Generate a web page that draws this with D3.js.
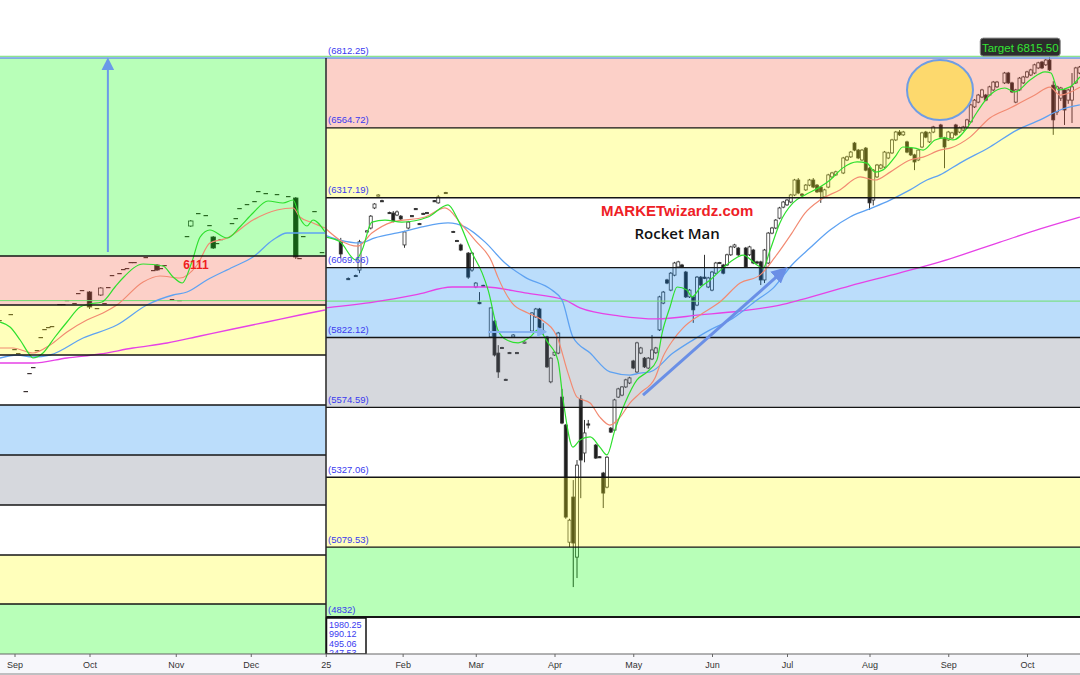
<!DOCTYPE html>
<html><head><meta charset="utf-8">
<script src="https://cdn.jsdelivr.net/npm/d3@7"></script>
<style>
body{margin:0;background:#fff;}
svg{display:block;font-family:"Liberation Sans",Arial,sans-serif;}
</style>
</head><body>
<svg id="c" width="1080" height="675"></svg>
<script>
// ---------- DATA ----------
// x axis: trading-day index (0 = first trading day of Sep 2024)
const monthTickIdx = [0,20,43,63,83,103.5,123,144,165,186,206,228,249,270];
const monthLabels  = ["Sep","Oct","Nov","Dec","25","Feb","Mar","Apr","May","Jun","Jul","Aug","Sep","Oct"];

// right panel (2025) fib levels
const rightLevels = [6812.25,6564.72,6317.19,6069.66,5822.12,5574.59,5327.06,5079.53,4832];
const rightLevelLabels = ["6812.25","6564.72","6317.19","6069.66","5822.12","5574.59","5327.06","5079.53","4832"];
const rightBandColors = ["pink","yellow","white","blue","gray","white","yellow","green"];
// left panel (2024) levels
const leftLevels = [6557.5,6062.5,5940,5815,5690,5565,5440,5315,5192.5,5065];
const leftBandColors = ["green","pink","yellow","white","blue","gray","white","yellow","green"];
const scaleBoxLabels = ["1980.25","990.12","495.06","247.53"];
const targetValue = 6815.5;
const greenLevel = 5951;

// candles: [dayIndex, open, high, low, close]
const leftCandles = [
[-4,5902.5,5902.5,5902.5,5902.5],[-1,5917.5,5917.5,5917.5,5917.5],[0,5830,5830,5830,5830],[1,5820,5820,5820,5820],
[3,5725,5725,5725,5725],[4,5770,5770,5770,5770],[5,5785,5785,5785,5785],[6,5827.5,5827.5,5827.5,5827.5],
[7,5860,5860,5860,5860],[8,5880,5880,5880,5880],[9,5885,5885,5885,5885],[10,5887.5,5887.5,5887.5,5887.5],
[12,5942.5,5942.5,5942.5,5942.5],[13,5942.5,5942.5,5942.5,5942.5],[14,5952.5,5952.5,5952.5,5952.5],
[16,5945,5945,5945,5945],[17,5970,5970,5970,5970],[18,5977.5,5977.5,5977.5,5977.5],
[20,5972.5,5975,5930,5935],[22,5932.5,5932.5,5932.5,5932.5],[23,5965,5985,5962.5,5982.5],
[24,5945,5945,5945,5945],[25,5985,5985,5985,5985],[26,6015,6015,6015,6015],[28,6020,6020,6020,6020],
[29,6030,6030,6030,6030],[30,6032.5,6032.5,6032.5,6032.5],[31,6047.5,6047.5,6047.5,6047.5],[32,6047.5,6047.5,6047.5,6047.5],
[35,6060,6060,6060,6060],[37,6027.5,6027.5,6027.5,6027.5],[38,6040,6042.5,6025,6027.5],[39,6032.5,6032.5,6032.5,6032.5],
[40,6040,6040,6040,6040],[42,5955,5955,5955,5955],[44,5952.5,5952.5,5952.5,5952.5],[46,6112.5,6112.5,6112.5,6112.5],
[47,6137.5,6152.5,6135,6150],[49,6170,6170,6170,6170],[51,6165,6165,6165,6165],[52,6140,6140,6140,6140],
[53,6110,6112.5,6080,6082.5],[54,6095,6095,6095,6095],[55,6105,6105,6105,6105],[58,6145,6145,6145,6145],
[59,6157.5,6157.5,6157.5,6157.5],[60,6182.5,6182.5,6182.5,6182.5],[62,6192.5,6192.5,6192.5,6192.5],
[64,6200,6200,6200,6200],[65,6225,6225,6225,6225],[67,6220,6220,6220,6220],[70,6217.5,6217.5,6217.5,6217.5],
[73,6212.5,6212.5,6212.5,6212.5],[75,6207.5,6210,6055,6060],[76,6057.5,6057.5,6057.5,6057.5],
[77,6112.5,6112.5,6112.5,6112.5],[80,6175,6175,6175,6175],[82,6072.5,6072.5,6072.5,6072.5]
];

const rightCandles = [
[87,6160,6175,6104,6118],[89,6031,6035,6026,6029],[91,6042,6045,6037,6040],[92,6061,6168,6050,6161],
[94,6198,6203,6196,6200],[95,6210,6256,6205,6252],[96,6281,6298,6277,6295],[97,6325,6330,6322,6327],
[98,6307,6310,6302,6305],[100,6265,6268,6260,6263],[101,6263,6270,6230,6235],[102,6256,6272,6252,6267],
[103,6252,6256,6238,6242],[104,6150,6200,6140,6196],[105,6210,6235,6205,6231],[106,6254,6256,6250,6252],
[107,6279,6281,6275,6277],[108,6226,6228,6222,6224],[109,6262,6264,6258,6260],[110,6265,6267,6261,6263],
[112,6307,6309,6303,6305],[113,6299,6327,6296,6320],[115,6336,6338,6332,6334],[117,6198,6200,6194,6196],
[118,6166,6168,6162,6164],[119,6150,6155,6128,6132],[121,6121,6125,6030,6036],[122,6061,6125,6055,6121],
[123,6001,6018,5997,6015],[124,5946,5983,5940,5944],[125,6007,6009,6003,6005],[127,5824,5927,5820,5927],
[128,5880,5884,5755,5760],[129,5767,5795,5679,5700],[130,5787,5789,5783,5785],[131,5674,5676,5670,5672],
[132,5769,5771,5765,5767],[133,5824,5834,5821,5831],[134,5769,5771,5765,5767],[136,5802,5808,5800,5806],
[138,5845,5912,5842,5909],[139,5895,5927,5892,5923],[140,5923,5927,5852,5856],[141,5845,5873,5831,5840],
[142,5824,5828,5714,5718],[143,5665,5752,5660,5749],[144,5760,5773,5757,5770],[145,5767,5842,5763,5838],
[146,5611,5640,5515,5519],[147,5512,5516,5180,5186],[148,5097,5180,5080,5175],[149,5257,5317,4938,5094],
[150,5044,5388,4970,5370],[151,5604,5618,5253,5388],[152,5413,5530,5380,5484],[153,5516,5530,5500,5512],
[155,5441,5445,5392,5395],[156,5400,5402,5396,5398],[157,5342,5346,5218,5271],[158,5292,5402,5288,5398],
[159,5501,5505,5484,5487],[160,5494,5605,5490,5601],[161,5611,5644,5608,5640],[162,5618,5650,5614,5647],
[163,5647,5676,5643,5672],[164,5661,5683,5657,5679],[165,5739,5743,5710,5714],[166,5700,5807,5696,5803],
[167,5767,5789,5763,5785],[168,5749,5753,5714,5718],[169,5714,5753,5710,5749],[170,5746,5831,5742,5778],
[171,5768,5789,5764,5785],[172,5849,5970,5845,5966],[173,5944,5987,5940,5983],[174,6026,6030,6011,6015],
[175,5990,6054,5986,6050],[176,6043,6090,6039,6086],[177,6072,6094,6068,6090],[178,6079,6083,6068,6072],
[179,6054,6058,5962,5966],[180,5966,5994,5962,5990],[181,5966,5970,5874,5920],[182,5937,6040,5933,6036],
[183,6036,6040,6004,6008],[184,6036,6115,6029,6033],[185,6001,6037,5997,6033],[186,5990,6058,5986,6054],
[187,6050,6090,6046,6086],[188,6088,6090,6084,6086],[189,6079,6083,6046,6050],[190,6079,6119,6075,6115],
[191,6115,6147,6111,6143],[192,6143,6154,6139,6150],[193,6139,6143,6111,6115],[195,6139,6143,6068,6072],
[196,6115,6147,6111,6143],[197,6132,6136,6082,6086],[198,6090,6094,6082,6086],[199,6090,6094,6008,6026],
[200,6026,6136,6015,6132],[201,6086,6196,6082,6192],[202,6192,6214,6188,6210],[203,6210,6242,6206,6238],
[204,6245,6285,6241,6281],[205,6284,6306,6280,6302],[206,6292,6313,6288,6309],[207,6302,6331,6298,6327],
[208,6327,6384,6323,6380],[209,6380,6387,6330,6334],[210,6330,6334,6323,6327],[211,6345,6366,6341,6362],
[212,6362,6384,6358,6380],[213,6380,6387,6351,6355],[214,6362,6366,6334,6338],[215,6355,6359,6299,6338],
[216,6320,6349,6316,6345],[217,6355,6402,6351,6398],[218,6391,6409,6387,6405],[219,6398,6413,6394,6409],
[221,6405,6462,6401,6458],[222,6451,6466,6447,6462],[223,6462,6483,6458,6479],[224,6511,6515,6482,6486],
[225,6486,6490,6454,6458],[226,6451,6490,6447,6486],[227,6493,6497,6411,6415],[228,6422,6426,6274,6299],
[229,6309,6419,6290,6415],[230,6391,6437,6387,6433],[231,6422,6437,6418,6433],[232,6426,6483,6422,6479],
[233,6458,6480,6454,6476],[234,6476,6526,6472,6522],[235,6522,6554,6518,6550],[236,6550,6557,6536,6540],
[237,6540,6554,6536,6550],[238,6515,6519,6475,6479],[239,6493,6497,6465,6469],[240,6469,6473,6415,6444],
[241,6451,6490,6447,6486],[242,6497,6551,6493,6547],[243,6550,6554,6528,6532],[244,6515,6551,6511,6547],
[245,6550,6572,6546,6568],[247,6575,6579,6528,6532],[248,6529,6533,6422,6497],[249,6522,6554,6518,6550],
[250,6529,6551,6525,6547],[251,6575,6579,6536,6540],[252,6550,6569,6546,6565],[253,6557,6572,6553,6568],
[254,6568,6597,6564,6593],[255,6586,6650,6582,6646],[256,6639,6667,6635,6663],[257,6656,6685,6652,6681],
[258,6674,6703,6670,6699],[259,6681,6685,6659,6663],[260,6681,6714,6677,6710],[261,6699,6731,6695,6727],
[262,6710,6731,6706,6727],[264,6724,6763,6720,6759],[265,6759,6763,6720,6724],[266,6724,6728,6688,6692],
[267,6656,6703,6652,6699],[268,6699,6745,6695,6741],[269,6724,6749,6720,6745],[270,6745,6767,6741,6763],
[271,6752,6774,6748,6770],[272,6759,6792,6755,6788],[273,6777,6799,6773,6795],[274,6798,6802,6773,6777],
[275,6788,6809,6784,6805],[276,6805,6815,6766,6770],[277,6716,6730,6540,6593],[278,6621,6714,6610,6710],
[279,6670,6710,6660,6706],[280,6699,6703,6575,6628],[281,6663,6703,6650,6699],[282,6663,6759,6582,6710],
[283,6724,6781,6720,6777],[284,6759,6784,6755,6780]
];

// moving averages: [dayIndex, value]
const leftFastMA = [[-3.9,5897.5],[-1.2,5885],[1.5,5852.5],[4.1,5815],[4.9,5807.5],[7.6,5820],[10.8,5860],[14,5897.5],[17.5,5935],[20.1,5942.5],[23.3,5947.5],[26.8,5985],[28.9,6007.5],[34.3,6042.5],[39.6,6037.5],[42.3,6010],[44.7,5995],[47.3,6047.5],[49.5,6110],[52.1,6127.5],[56.7,6107.5],[60.1,6135],[63.6,6170],[67.6,6200],[71.6,6195],[74.3,6202.5],[76.1,6157.5],[78,6137.5],[79.6,6152.5],[82.8,6122.5]];
const leftMidMA = [[-3.9,5832.5],[-0.4,5832.5],[4.9,5820],[9.5,5840],[14,5872.5],[19.3,5902.5],[23.6,5920],[27.3,5940],[34.3,5997.5],[38.8,6012.5],[44.1,6007.5],[48.7,6040],[52.1,6095],[56.7,6107.5],[63.6,6152.5],[70,6177.5],[74.3,6182.5],[76.1,6160],[79.6,6145],[82.8,6132.5]];
const leftSlowMA = [[-3.9,5807.5],[0.7,5815],[4.9,5810],[9.5,5815],[18.3,5857.5],[27.3,5890],[35.3,5940],[42.3,5965],[46,5972.5],[51.3,6002.5],[58.3,6035],[63.6,6060],[68.9,6102.5],[72.7,6120],[76.1,6120],[82.8,6120]];
const leftLongMA = [[-3.9,5795],[4.9,5795],[14,5807.5],[22.8,5817.5],[31.6,5832.5],[40.7,5845],[49.5,5862.5],[58.3,5880],[67.3,5897.5],[76.1,5915],[82.8,5927.5]];

const rightFastMA = [[83,6178],[86.8,6161],[91,6097],[92.7,6132],[95.3,6231],[98.8,6238],[103.3,6231],[110.3,6249],[115.6,6292],[118.3,6238],[122,6122],[124.7,6051],[126.3,5990],[128.9,5849],[131.3,5813],[134.3,5803],[137.5,5824],[139.6,5849],[142.3,5803],[144.9,5742],[146.3,5601],[148.9,5434],[150.8,5459],[153.5,5470],[156.1,5434],[158,5406],[160.1,5494],[162.8,5590],[166,5672],[168.7,5700],[171.3,5742],[172.7,5838],[174.8,5930],[176.7,6001],[179.3,5990],[180.7,5966],[182.8,5998],[185.5,6026],[188.9,6068],[191.6,6097],[194.3,6114],[198,6079],[199.6,6068],[201.5,6132],[204.1,6228],[207.6,6299],[210.8,6327],[214.8,6355],[217.5,6380],[220.9,6423],[224.7,6444],[227.3,6440],[229.5,6408],[231.6,6416],[234.8,6462],[236.9,6497],[240.1,6493],[242.3,6486],[245.5,6522],[248.1,6529],[250.3,6522],[254,6564],[256.7,6621],[260.1,6681],[264.1,6706],[266.8,6692],[270.8,6734],[274.8,6763],[276.4,6759],[278.3,6699],[281.5,6710],[284.1,6745]];
const rightMidMA = [[82.8,6210],[86.8,6167],[91.6,6146],[95.3,6192],[100.7,6231],[109.5,6249],[114.8,6281],[119.3,6221],[122.8,6167],[127.3,6090],[128.9,6036],[132.7,5944],[136.9,5909],[140.7,5884],[144.7,5824],[147.6,5696],[150,5611],[153.5,5590],[156.1,5540],[158.8,5512],[161.5,5540],[164.1,5590],[166.8,5625],[170.8,5679],[172.9,5753],[175.6,5813],[178.3,5856],[182.8,5902],[188.1,5948],[193.5,6015],[198.8,6043],[202.8,6107],[207.3,6192],[210.8,6263],[214.8,6309],[220.1,6345],[225.5,6391],[229.5,6380],[233.5,6408],[238.8,6451],[242.3,6461],[246.8,6486],[249.5,6493],[254.8,6532],[260.1,6600],[265.5,6635],[272.1,6681],[276.1,6709],[278.8,6681],[284.1,6709]];
const rightSlowMA = [[82.8,6185],[86.8,6167],[92.1,6157],[96.1,6175],[103.3,6196],[108.7,6214],[115.6,6228],[120.1,6214],[125.5,6160],[130.8,6086],[136.1,6036],[143.3,5990],[146,5955],[148.9,5824],[153.5,5767],[158.8,5700],[164.1,5689],[166.8,5696],[169.5,5700],[175.6,5767],[180.9,5813],[185.5,5849],[190.8,5884],[198,5955],[202.3,5997],[207.3,6079],[212.1,6139],[217.5,6203],[222.8,6249],[227.3,6274],[233.5,6309],[238.8,6345],[243.3,6380],[246.8,6398],[252.1,6440],[260.1,6497],[267.3,6557],[273.5,6593],[278.8,6628],[284.1,6646]];
const rightLongMA = [[83.1,5927],[96.1,5948],[106.8,5973],[116.7,6001],[125.5,6001],[136.1,5980],[146.8,5955],[150.8,5927],[161.5,5898],[171.3,5888],[182.8,5902],[193.5,5916],[204.1,5937],[209.5,5955],[222.8,6005],[236.1,6051],[246.8,6090],[262.8,6160],[273.5,6207],[284.1,6249]];

// annotations (in data units)
const leftArrow = [[24.9,6072.5],[24.9,6552.5]];
const rocketArrow = [[167.6,5618],[205.5,6064]];
const flatArrow = [[126.3,5842],[141.5,5842]];
const circleCenter = [246.8,6699];
const label6111 = [48.4,6040];
const targetLabelIdx = 268.2;

// ---------- DRAW ----------
const svg = d3.select("#c");
const x = d3.scaleLinear().domain([0,284]).range([14.5,1079.5]);
const yR = d3.scaleLinear().domain([4832,6812.25]).range([617,58]);
const yL = d3.scaleLinear().domain([5065,6557.5]).range([655,58]);
const split = 326;
const overlay = {pink:"#f4573b",yellow:"#ffff0c",blue:"#0c86f1",gray:"#6d7486",green:"#00ff00"};
const bandOpacity = 0.28;

svg.append("rect").attr("width",1080).attr("height",675).attr("fill","#fff");
const defs = svg.append("defs");
defs.append("clipPath").attr("id","clipL").append("rect").attr("x",0).attr("y",0).attr("width",split-0.5).attr("height",654);
defs.append("clipPath").attr("id","clipR").append("rect").attr("x",split+0.5).attr("y",0).attr("width",1080-split).attr("height",617);
defs.append("clipPath").attr("id","clipBox").append("rect").attr("x",split).attr("y",618).attr("width",40).attr("height",35);

function arrowMarker(id,color,size){
  defs.append("marker").attr("id",id).attr("viewBox","0 0 10 10").attr("refX",8).attr("refY",5)
    .attr("markerWidth",size).attr("markerHeight",size).attr("orient","auto-start-reverse")
    .attr("markerUnits","userSpaceOnUse")
    .append("path").attr("d","M0,0 L10,5 L0,10 z").attr("fill",color);
}
arrowMarker("arrBlue","#6b9ae8",13);
arrowMarker("arrRocket","#6a8fe6",16);
arrowMarker("arrFlat","#86b2f0",10);

function drawCandles(g, data, y, w){
  const gg = g.selectAll("g.c").data(data).join("g");
  gg.append("line").attr("x1",d=>x(d[0])).attr("x2",d=>x(d[0]))
    .attr("y1",d=>y(d[2])).attr("y2",d=>y(d[3])).attr("stroke","#333").attr("stroke-width",1);
  gg.append("rect")
    .attr("x",d=>x(d[0])-w/2).attr("width",w)
    .attr("y",d=>y(Math.max(d[1],d[4])))
    .attr("height",d=>Math.max(1.2,Math.abs(y(d[1])-y(d[4]))))
    .attr("fill",d=>d[4]>d[1]?"#fff":"#1e1e1e")
    .attr("stroke",d=>d[1]===d[4]?"none":"#333").attr("stroke-width",0.8);
  gg.filter(d=>d[1]===d[4]).select("rect").attr("fill","#3a3030");
}

const gL = svg.append("g").attr("clip-path","url(#clipL)");
const gR = svg.append("g").attr("clip-path","url(#clipR)");

drawCandles(gL.append("g"), leftCandles, yL, 4.5);
drawCandles(gR.append("g"), rightCandles, yR, 3);

// band overlays
rightBandColors.forEach((c,i)=>{
  if(c==="white") return;
  gR.append("rect").attr("x",split).attr("width",1080-split)
    .attr("y",yR(rightLevels[i])).attr("height",yR(rightLevels[i+1])-yR(rightLevels[i]))
    .attr("fill",overlay[c]).attr("fill-opacity",bandOpacity);
});
leftBandColors.forEach((c,i)=>{
  if(c==="white") return;
  gL.append("rect").attr("x",0).attr("width",split)
    .attr("y",yL(leftLevels[i])).attr("height",yL(leftLevels[i+1])-yL(leftLevels[i]))
    .attr("fill",overlay[c]).attr("fill-opacity",bandOpacity);
});
// band lines
rightLevels.slice(1).forEach((v,i)=>{
  svg.append("line").attr("x1",split).attr("x2",1080).attr("y1",yR(v)).attr("y2",yR(v))
    .attr("stroke","#151515").attr("stroke-width",i===rightLevels.length-2?2.2:1.4);
});
leftLevels.slice(1,-1).forEach(v=>{
  svg.append("line").attr("x1",0).attr("x2",split).attr("y1",yL(v)).attr("y2",yL(v))
    .attr("stroke","#151515").attr("stroke-width",1.4);
});
// green horizontal level
gL.append("line").attr("x1",0).attr("x2",split).attr("y1",yL(greenLevel)).attr("y2",yL(greenLevel)).attr("stroke","#6ee06e").attr("stroke-width",1);
gR.append("line").attr("x1",split).attr("x2",1080).attr("y1",yR(greenLevel)).attr("y2",yR(greenLevel)).attr("stroke","#6ee06e").attr("stroke-width",1);

// target line + top line
svg.append("line").attr("x1",0).attr("x2",1080).attr("y1",yR(targetValue)-0.8).attr("y2",yR(targetValue)-0.8).attr("stroke","#6fdc6f").attr("stroke-width",1);
svg.append("line").attr("x1",0).attr("x2",1080).attr("y1",yR(rightLevels[0])).attr("y2",yR(rightLevels[0])).attr("stroke","#6b9ae8").attr("stroke-width",1.6);

// moving averages
function drawLine(g, data, y, color, w){
  g.append("path").datum(data)
    .attr("d",d3.line().x(d=>x(d[0])).y(d=>y(d[1])).curve(d3.curveMonotoneX))
    .attr("fill","none").attr("stroke",color).attr("stroke-width",w);
}
drawLine(gL, leftLongMA, yL, "#e642e6", 1.3);
drawLine(gL, leftSlowMA, yL, "#5ea2f2", 1.3);
drawLine(gL, leftMidMA, yL, "#f28a72", 1.2);
drawLine(gL, leftFastMA, yL, "#2ee02e", 1.2);
drawLine(gR, rightLongMA, yR, "#e642e6", 1.3);
drawLine(gR, rightSlowMA, yR, "#5ea2f2", 1.3);
drawLine(gR, rightMidMA, yR, "#f28a72", 1.2);
drawLine(gR, rightFastMA, yR, "#2ee02e", 1.2);

// separator
svg.append("line").attr("x1",split).attr("x2",split).attr("y1",yR(rightLevels[0])).attr("y2",654).attr("stroke","#222").attr("stroke-width",1.5);

// level labels
rightLevels.forEach((v,i)=>{
  svg.append("text").attr("x",split+2).attr("y",yR(v)-4.5).attr("font-size",9.5)
    .attr("fill","#3a3af0").text("("+rightLevelLabels[i]+")");
});

// scale box
svg.append("rect").attr("x",split+0.5).attr("y",618).attr("width",39.5).attr("height",36)
  .attr("fill","#fff").attr("stroke","#111").attr("stroke-width",1.5);
const gb = svg.append("g").attr("clip-path","url(#clipBox)");
scaleBoxLabels.forEach((t,i)=>{
  gb.append("text").attr("x",split+3).attr("y",627.5+i*9.5).attr("font-size",9).attr("fill","#3a3af0").text(t);
});

// annotations
svg.append("line").attr("x1",x(leftArrow[0][0])).attr("x2",x(leftArrow[1][0]))
  .attr("y1",yL(leftArrow[0][1])).attr("y2",yL(leftArrow[1][1]))
  .attr("stroke","#6b9ae8").attr("stroke-width",2).attr("marker-end","url(#arrBlue)");
svg.append("line").attr("x1",x(rocketArrow[0][0])).attr("x2",x(rocketArrow[1][0]))
  .attr("y1",yR(rocketArrow[0][1])).attr("y2",yR(rocketArrow[1][1]))
  .attr("stroke","#6a8fe6").attr("stroke-width",3).attr("marker-end","url(#arrRocket)");
svg.append("line").attr("x1",x(flatArrow[0][0])).attr("x2",x(flatArrow[1][0]))
  .attr("y1",yR(flatArrow[0][1])).attr("y2",yR(flatArrow[1][1]))
  .attr("stroke","#86b2f0").attr("stroke-width",2).attr("marker-end","url(#arrFlat)");

svg.append("ellipse").attr("cx",x(circleCenter[0])).attr("cy",yR(circleCenter[1]))
  .attr("rx",33).attr("ry",30).attr("fill","#fdd96d").attr("stroke","#6f9de4").attr("stroke-width",2);

svg.append("text").attr("x",x(label6111[0])).attr("y",yL(label6111[1])+4).attr("text-anchor","middle")
  .attr("font-size",12).attr("font-weight","bold").attr("fill","#ee1e1e").text("6111");

svg.append("text").attr("x",x(176.7)).attr("y",216).attr("text-anchor","middle")
  .attr("font-size",15).attr("font-weight","bold").attr("fill","#ee2026").text("MARKETwizardz.com");
svg.append("text").attr("x",x(176.7)).attr("y",239).attr("text-anchor","middle")
  .attr("font-family","'Open Sans',sans-serif").attr("font-size",15).attr("font-weight",600).attr("fill","#111").text("Rocket Man");

// target label
const tx = x(targetLabelIdx), ty = yR(targetValue);
svg.append("rect").attr("x",tx-40).attr("y",ty-19).attr("width",80).attr("height",18).attr("rx",3)
  .attr("fill","#2c2c2c").attr("stroke","#8a8a8a").attr("stroke-width",1);
svg.append("text").attr("x",tx).attr("y",ty-5.5).attr("text-anchor","middle").attr("font-size",11.5)
  .attr("fill","#33e633").text("Target 6815.50");

// x axis
svg.append("rect").attr("x",0).attr("y",654).attr("width",1080).attr("height",21).attr("fill","#f7f7fb");
const ax = svg.append("g").attr("transform","translate(0,654)")
  .call(d3.axisBottom(x).tickValues(monthTickIdx).tickFormat((d,i)=>monthLabels[i]).tickSize(3).tickPadding(5));
ax.select(".domain").remove();
ax.selectAll(".tick line").attr("stroke","#666");
ax.selectAll(".tick text").attr("font-size",9).attr("fill","#333").attr("font-family","'Liberation Sans',Arial,sans-serif");
svg.append("line").attr("x1",0).attr("x2",1080).attr("y1",654).attr("y2",654).attr("stroke","#666").attr("stroke-width",1.2);
svg.append("line").attr("x1",0).attr("x2",1080).attr("y1",674).attr("y2",674).attr("stroke","#888").attr("stroke-width",1.2);
</script>
</body></html>
